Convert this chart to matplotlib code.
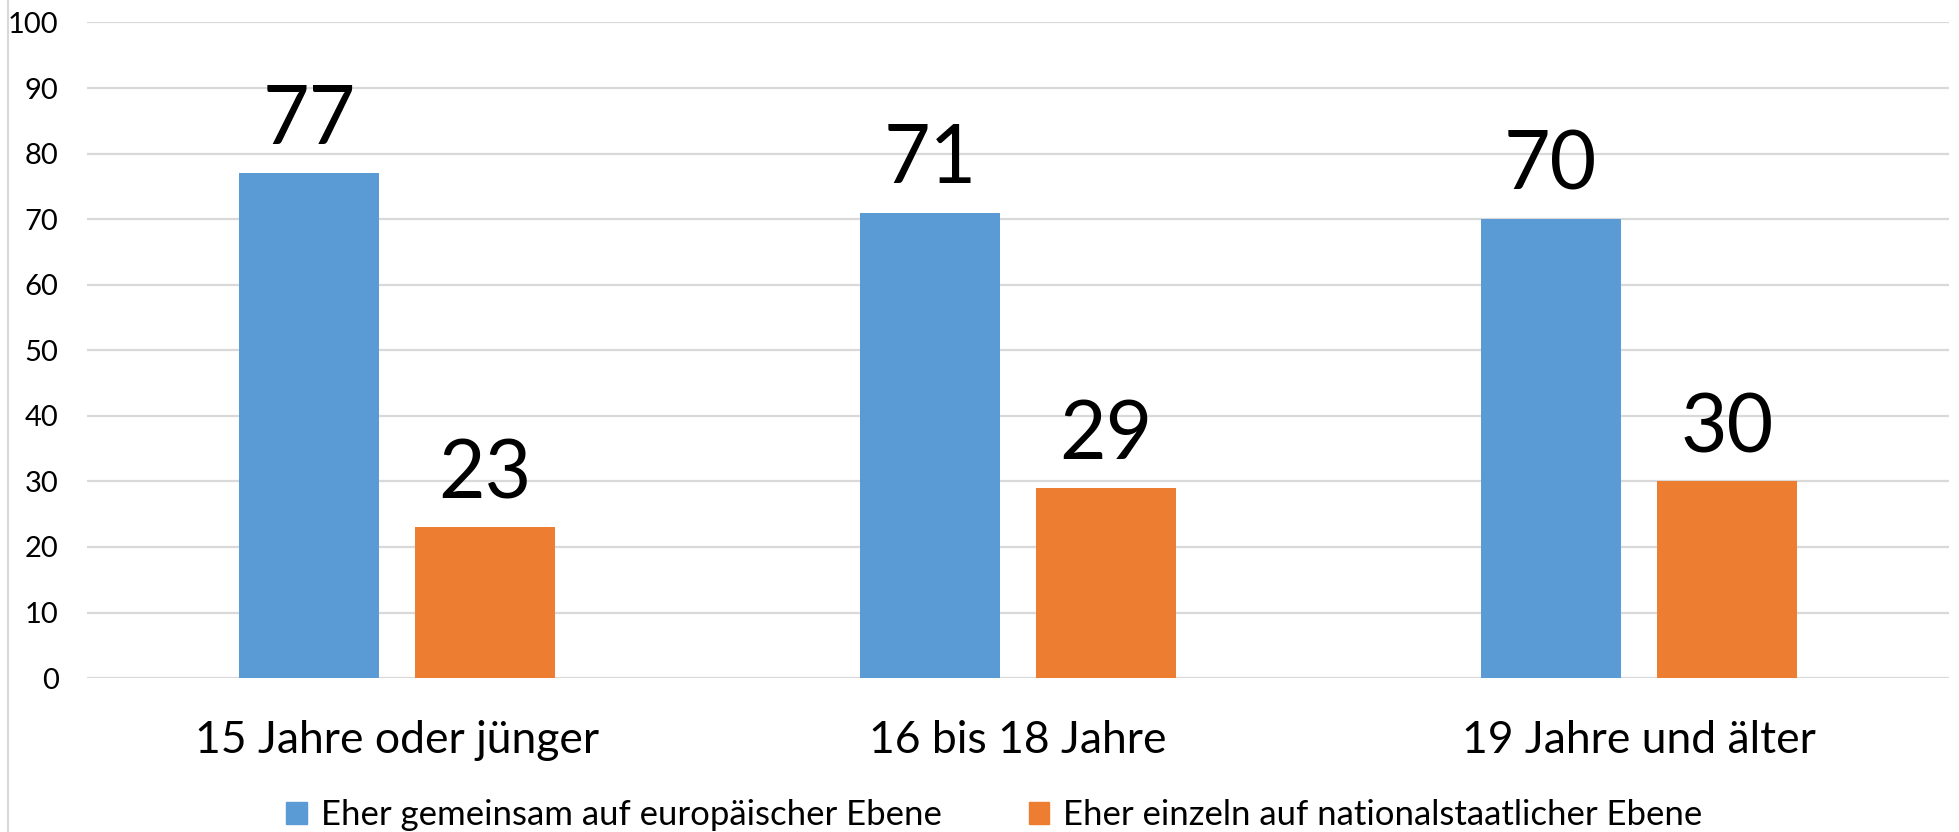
import numpy as np
import matplotlib.pyplot as plt
from matplotlib.lines import Line2D
from matplotlib.patches import Patch

plt.rcParams['font.family'] = ['Lato', 'DejaVu Sans']

# data
categories = ['15 Jahre oder jünger', '16 bis 18 Jahre', '19 Jahre und älter']
series_names = ['Eher gemeinsam auf europäischer Ebene',
                'Eher einzeln auf nationalstaatlicher Ebene']
europe = [77, 71, 70]
national = [23, 29, 30]
y_ticks = [0, 10, 20, 30, 40, 50, 60, 70, 80, 90, 100]

BLUE = '#5B9BD5'
ORANGE = '#ED7D31'
GRID = '#D9D9D9'


def label_bars(ax, bars):
    """Put the value above each bar"""
    for rect in bars:
        height = rect.get_height()
        ax.annotate('{}'.format(int(height)),
                    xy=(rect.get_x() + rect.get_width() / 2, height),
                    xytext=(0, 11), textcoords='offset points',
                    ha='center', va='bottom', fontsize=58, color='black')


fig = plt.figure(figsize=(19.59, 8.32), dpi=100)
ax = fig.add_axes([0.0444, 0.185, 0.9505, 0.788])

x = np.arange(len(categories))
width = 0.2255
offset = 0.1418
bars1 = ax.bar(x - offset, europe, width, color=BLUE, zorder=3)
bars2 = ax.bar(x + offset, national, width, color=ORANGE, zorder=3)
label_bars(ax, bars1)
label_bars(ax, bars2)

ax.set_xlim(-0.5, len(categories) - 0.5)
ax.set_ylim(0, 100)
ax.set_yticks(y_ticks)
ax.yaxis.grid(True, color=GRID, linewidth=1.6, zorder=0)
ax.set_axisbelow(True)
for spine in ax.spines.values():
    spine.set_visible(False)
ax.tick_params(left=False, bottom=False)
ax.tick_params(axis='y', labelsize=21, pad=17)
ax.set_xticks(x)
ax.set_xticklabels(categories, fontsize=32)
ax.tick_params(axis='x', pad=27)

# legend at the bottom, partly cut by the figure edge as in the original
handles = [Patch(color=BLUE), Patch(color=ORANGE)]
fig.legend(handles, series_names, loc='center', bbox_to_anchor=(0.5076, 0.02),
           ncol=2, frameon=False, fontsize=25, handlelength=0.6,
           handleheight=0.6, handletextpad=0.4, columnspacing=2.5)

# thin frame line at the left edge
fig.add_artist(Line2D([0.004, 0.004], [0, 1], color=GRID, linewidth=1.5))

fig.savefig('out.png', dpi=100)
